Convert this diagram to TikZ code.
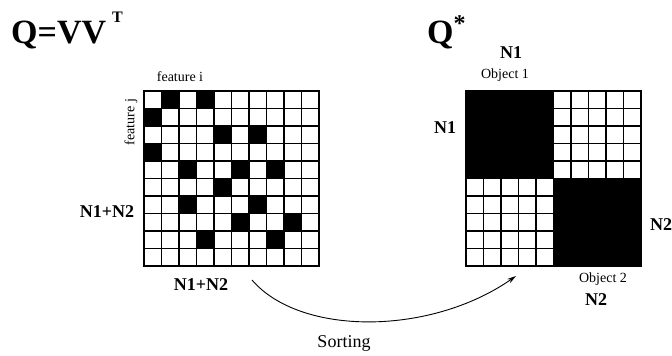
\documentclass[tikz,border=0pt]{standalone}
\usepackage{fontspec}
\setmainfont{Liberation Serif}
\usetikzlibrary{arrows.meta}

\tikzset{
  gridline/.style={line width=1.7pt, black},
  frame/.style={line width=2.2pt, black},
  cell/.style={fill=black},
  blab/.style={font=\fontsize{18}{18}\selectfont\bfseries, inner sep=0pt},
  slab/.style={font=\fontsize{14}{14}\selectfont, inner sep=0pt},
  flow/.style={line width=0.9pt, -{Stealth[length=9pt,width=5pt]}},
}

\begin{document}
\begin{tikzpicture}[x=1pt,y=-1pt]
  \useasboundingbox (0,0) rectangle (672,356);

  % ---- left matrix Q = V V^T, 10 x 10 cells ----
  \def\cw{17.5}
  \foreach \r/\c in {0/1,0/3,1/0,2/4,2/6,3/0,4/2,4/5,4/7,5/4,6/2,6/6,7/5,7/8,8/3,8/7}
    \fill[cell] ({144+\c*\cw},{91+\r*\cw}) rectangle ++(\cw,\cw);
  \foreach \i in {1,...,9} {
    \draw[gridline] ({144+\i*\cw},91) -- ({144+\i*\cw},266);
    \draw[gridline] (144,{91+\i*\cw}) -- (319,{91+\i*\cw});
  }
  \draw[frame] (144,91) rectangle (319,266);

  % ---- right matrix Q*, sorted into two blocks ----
  \foreach \i in {1,...,9} {
    \draw[gridline] ({466+\i*\cw},91) -- ({466+\i*\cw},266);
    \draw[gridline] (466,{91+\i*\cw}) -- (641,{91+\i*\cw});
  }
  \fill[cell] (466,91) rectangle (553.5,178.5);
  \fill[cell] (553.5,178.5) rectangle (641,266);
  \draw[frame] (466,91) rectangle (641,266);

  % ---- titles ----
  \node[anchor=base west, inner sep=0pt, font=\fontsize{34}{34}\selectfont\bfseries]
    (title) at (11,43) {Q=VV\hspace{6pt}\raisebox{21pt}{\fontsize{16}{16}\selectfont T}};
  \node[anchor=base west, inner sep=0pt, font=\fontsize{34}{34}\selectfont\bfseries]
    (qstar) at (427,43) {Q\raisebox{12pt}{\fontsize{24}{24}\selectfont *}};

  % ---- labels of the left matrix ----
  \node[slab] (fi) at (180,77) {feature i};
  \node[slab, rotate=90] (fj) at (131,122) {feature j};
  \node[blab] (nrow) at (107,212) {N1+N2};
  \node[blab] (ncol) at (201,285) {N1+N2};

  % ---- labels of the right matrix ----
  \node[blab] (n1top) at (511,53) {N1};
  \node[slab] (obj1) at (505,75) {Object 1};
  \node[blab] (n1left) at (445,128) {N1};
  \node[blab, anchor=west] (n2right) at (650,225) {N2};
  \node[slab] (obj2) at (603,279) {Object 2};
  \node[blab] (n2bot) at (596,300) {N2};

  % ---- sorting arrow ----
  \coordinate (sfrom) at (252,280);
  \coordinate (sto) at (516,276);
  \draw[flow] (sfrom) .. controls (300,336) and (430,336) .. (sto);
  \node[font=\fontsize{18}{18}\selectfont, inner sep=0pt] (sorting) at (344,343) {Sorting};
\end{tikzpicture}
\end{document}
